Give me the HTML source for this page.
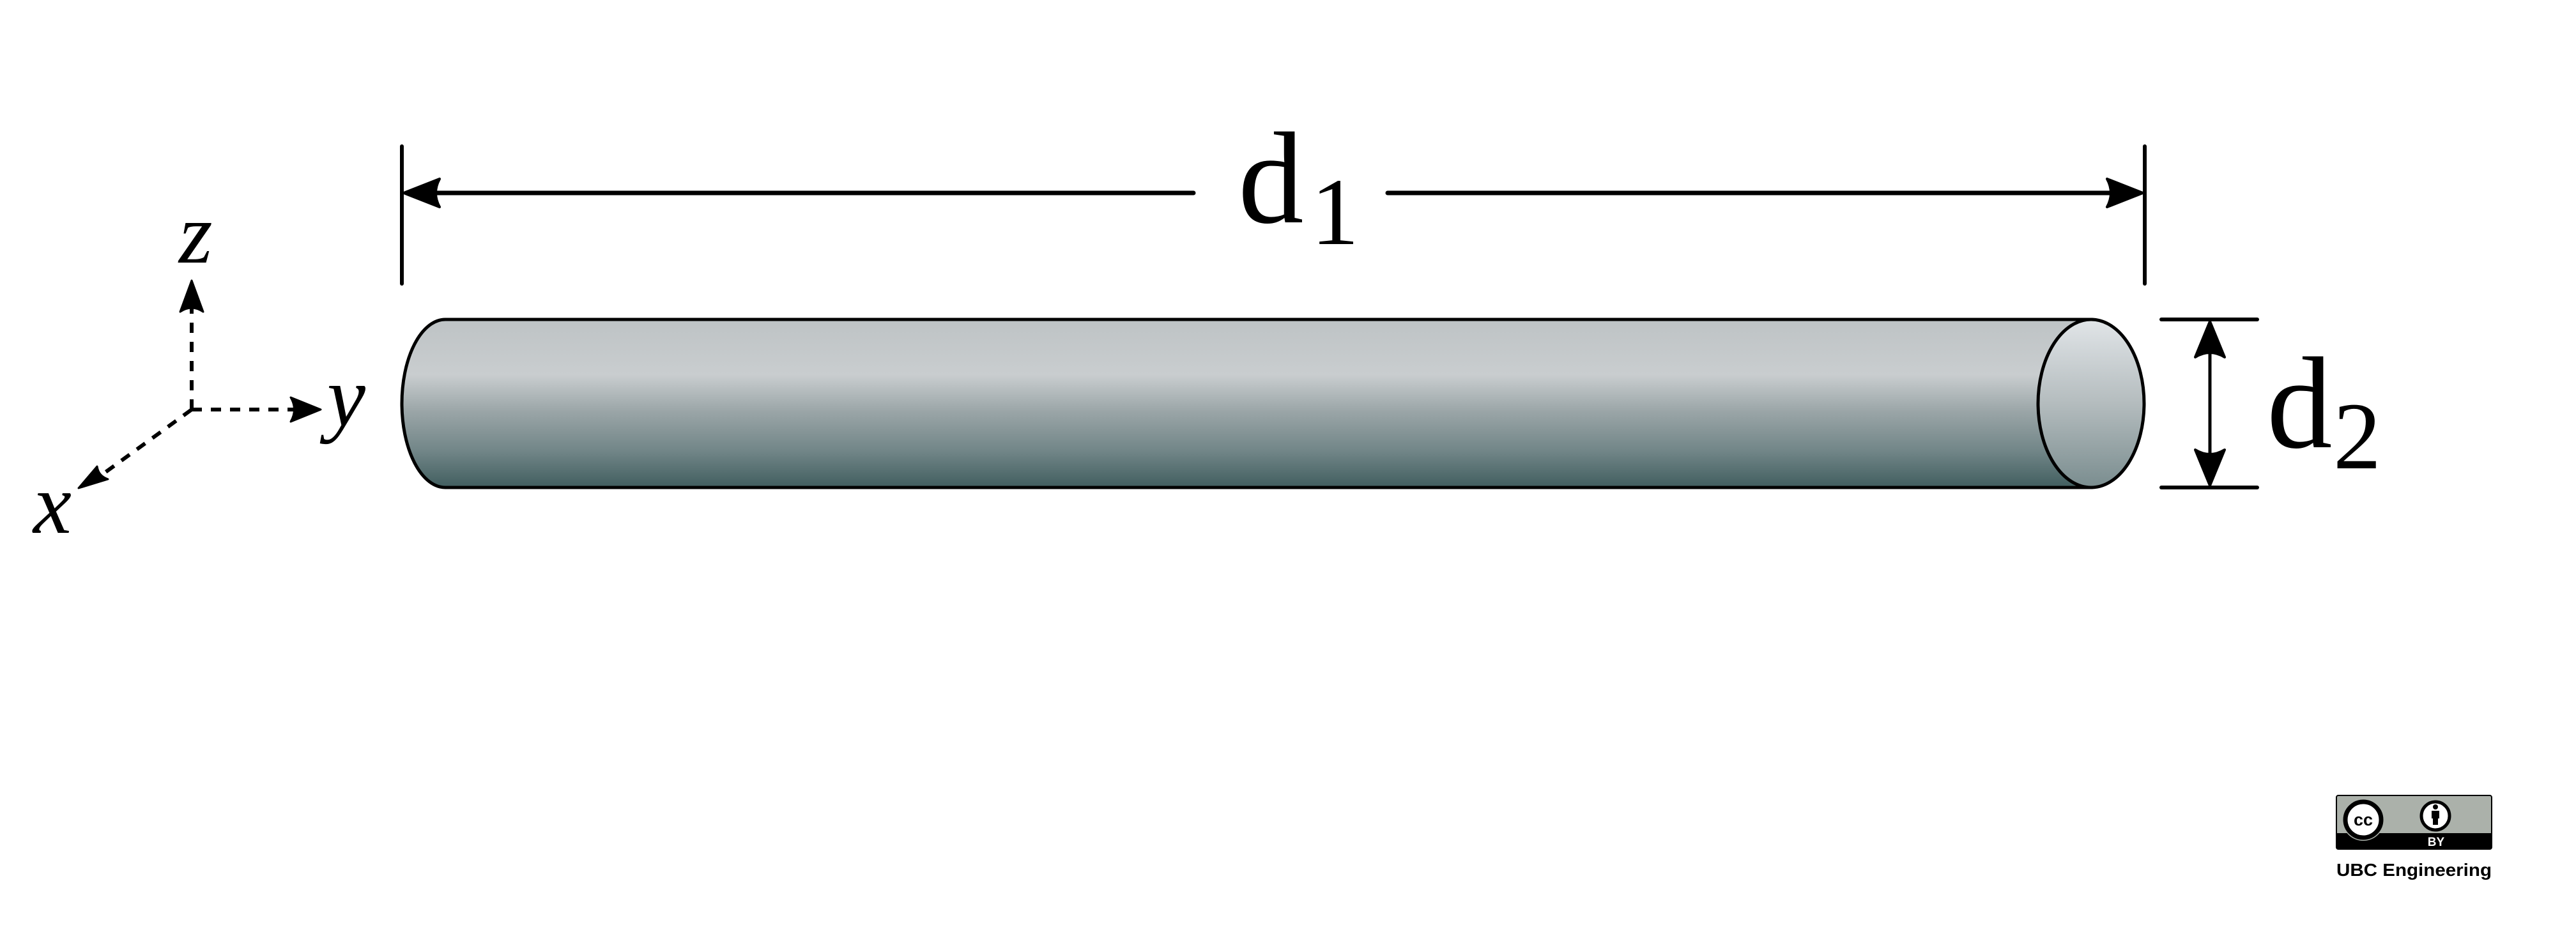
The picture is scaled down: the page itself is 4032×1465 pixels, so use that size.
<!DOCTYPE html>
<html><head><meta charset="utf-8"><style>
html,body{margin:0;padding:0;background:#fff;}
svg{display:block;}
.serif{font-family:"Liberation Serif","Times New Roman",serif;}
.sans{font-family:"Liberation Sans",Arial,sans-serif;}
</style></head><body>
<svg width="4032" height="1465" viewBox="0 0 4032 1465" xmlns="http://www.w3.org/2000/svg">
<defs>
<linearGradient id="body" x1="0" y1="0" x2="0" y2="1">
<stop offset="0" stop-color="#bec3c5"/>
<stop offset="0.33" stop-color="#c9cdcf"/>
<stop offset="0.55" stop-color="#9aa5a7"/>
<stop offset="0.78" stop-color="#728688"/>
<stop offset="1" stop-color="#415e5f"/>
</linearGradient>
<linearGradient id="cap" x1="0" y1="0" x2="0" y2="1">
<stop offset="0" stop-color="#e1e5e8"/>
<stop offset="0.5" stop-color="#b4bcbe"/>
<stop offset="1" stop-color="#7a8d8f"/>
</linearGradient>
</defs>
<rect width="4032" height="1465" fill="#fff"/>

<path d="M697,500 L3273,500 L3273,763 L697,763 A68,131.5 0 0 1 697,500 Z" fill="url(#body)" stroke="#000" stroke-width="5"/>
<ellipse cx="3273" cy="631.5" rx="83" ry="131.5" fill="url(#cap)" stroke="#000" stroke-width="5"/>

<line x1="629" y1="229" x2="629" y2="444" stroke="#000" stroke-width="6" stroke-linecap="round"/>
<line x1="3357" y1="229" x2="3357" y2="444" stroke="#000" stroke-width="6" stroke-linecap="round"/>
<line x1="680" y1="302" x2="1868" y2="302" stroke="#000" stroke-width="7" stroke-linecap="round"/>
<line x1="2172" y1="302" x2="3310" y2="302" stroke="#000" stroke-width="7" stroke-linecap="round"/>
<path d="M632,302 L688,280 Q676,302 688,324 Z" fill="#000" stroke="#000" stroke-width="4" stroke-linejoin="round"/>
<path d="M3354,302 L3298,280 Q3310,302 3298,324 Z" fill="#000" stroke="#000" stroke-width="4" stroke-linejoin="round"/>
<text class="serif" x="1938" y="348" font-size="205" fill="#000">d</text>
<text class="serif" x="2052" y="382" font-size="150" fill="#000">1</text>

<line x1="3383" y1="500" x2="3533" y2="500" stroke="#000" stroke-width="6" stroke-linecap="round"/>
<line x1="3383" y1="763" x2="3533" y2="763" stroke="#000" stroke-width="6" stroke-linecap="round"/>
<line x1="3459" y1="540" x2="3459" y2="722" stroke="#000" stroke-width="5"/>
<path d="M3459,503 L3482,559 Q3459,545 3436,559 Z" fill="#000" stroke="#000" stroke-width="4" stroke-linejoin="round"/>
<path d="M3459,760 L3482,704 Q3459,718 3436,704 Z" fill="#000" stroke="#000" stroke-width="4" stroke-linejoin="round"/>
<text class="serif" x="3548" y="700" font-size="205" fill="#000">d</text>
<text class="serif" x="3652" y="733" font-size="150" fill="#000">2</text>

<g stroke="#000" stroke-width="6" stroke-dasharray="16 14" fill="none">
<line x1="300" y1="641" x2="300" y2="470"/>
<line x1="300" y1="641" x2="470" y2="641"/>
<line x1="300" y1="641" x2="150" y2="750"/>
</g>
<path d="M300,439 L318,488 Q300,476 282,488 Z" fill="#000" stroke="#000" stroke-width="3" stroke-linejoin="round"/>
<path d="M502,641 L455,660 Q466,641 455,622 Z" fill="#000" stroke="#000" stroke-width="3" stroke-linejoin="round"/>
<path d="M123,764 L169,750 Q154,745 152,730 Z" fill="#000" stroke="#000" stroke-width="3" stroke-linejoin="round"/>
<text class="serif" x="280" y="411" font-style="italic" font-size="135" fill="#000">z</text>
<text class="serif" x="512" y="666" font-style="italic" font-size="135" fill="#000">y</text>
<text class="serif" x="52" y="834" font-style="italic" font-size="135" fill="#000">x</text>

<g>
<rect x="3657" y="1245" width="243" height="84" rx="3" fill="#abb1aa" stroke="#000" stroke-width="2"/>
<rect x="3657" y="1304" width="243" height="25" fill="#000"/>
<circle cx="3699" cy="1283" r="33" fill="#abb1aa"/>
<circle cx="3699" cy="1283" r="28" fill="#fff" stroke="#000" stroke-width="7"/>
<text class="sans" x="3699" y="1292" text-anchor="middle" font-weight="bold" font-size="27" fill="#000">cc</text>
<circle cx="3812" cy="1277" r="22" fill="#fff" stroke="#000" stroke-width="5"/>
<circle cx="3812" cy="1263" r="4" fill="#000"/>
<rect x="3806" y="1269" width="12" height="12" fill="#000"/>
<rect x="3808" y="1280" width="8" height="11" fill="#000"/>
<text class="sans" x="3813" y="1324" text-anchor="middle" font-weight="bold" font-size="19" fill="#fff">BY</text>
</g>
<text class="sans" x="3657" y="1371" textLength="243" lengthAdjust="spacingAndGlyphs" font-weight="bold" font-size="28" fill="#000">UBC Engineering</text>
</svg>
</body></html>
